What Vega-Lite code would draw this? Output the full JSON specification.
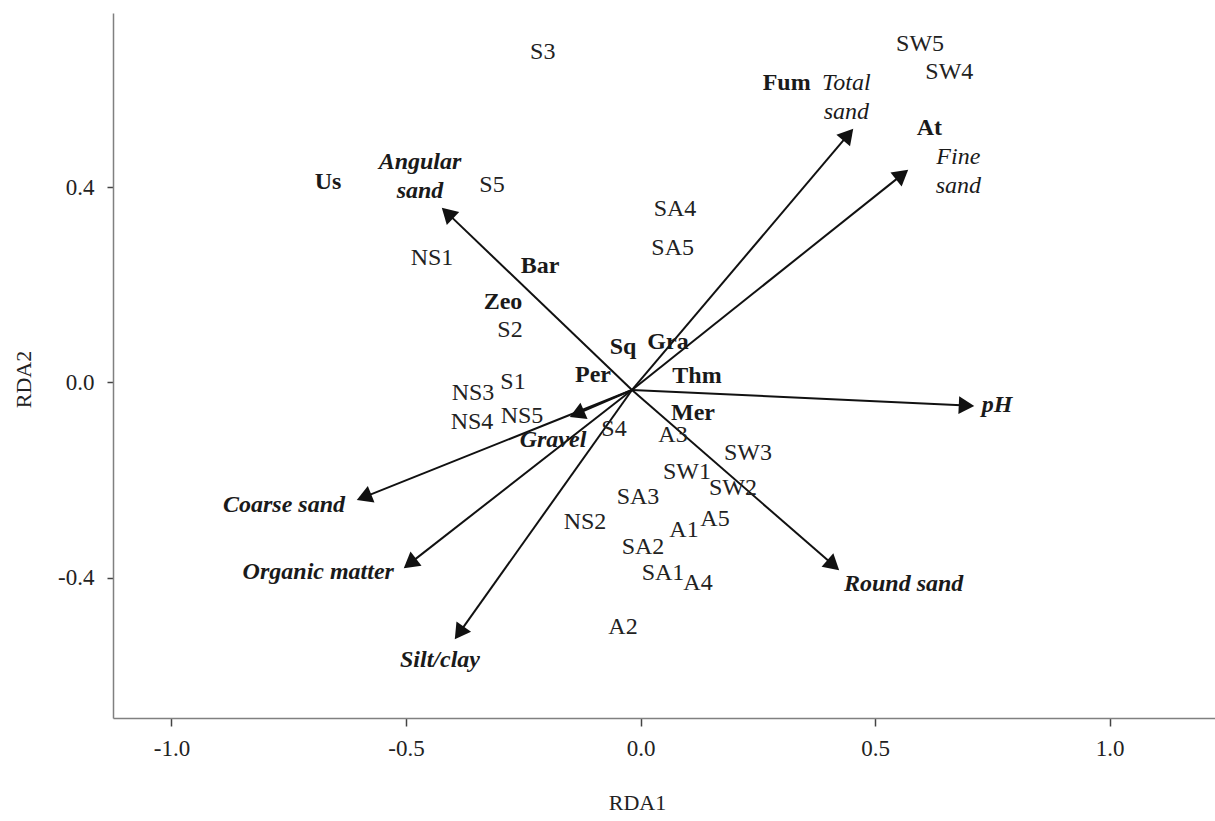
{
  "$schema": "https://vega.github.io/schema/vega-lite/v6.json",
  "width": 1102,
  "height": 705,
  "autosize": {"type": "none"},
  "padding": {"left": 113, "top": 13, "right": 0, "bottom": 103},
  "background": "white",
  "config": {"view": {"stroke": null}, "font": "Liberation Serif"},
  "datasets": {
    "arrows": [
      {"label": "Angular sand", "x": -0.4117, "y": 0.3469, "x0": -0.0181, "y0": -0.0154},
      {"label": "Total sand", "x": 0.4429, "y": 0.5078, "x0": -0.0181, "y0": -0.0154},
      {"label": "Fine sand", "x": 0.5578, "y": 0.4258, "x0": -0.0181, "y0": -0.0154},
      {"label": "pH", "x": 0.6951, "y": -0.0473, "x0": -0.0181, "y0": -0.0154},
      {"label": "Round sand", "x": 0.4111, "y": -0.3742, "x0": -0.0181, "y0": -0.0154},
      {"label": "Silt/clay", "x": -0.3864, "y": -0.5131, "x0": -0.0181, "y0": -0.0154},
      {"label": "Organic matter", "x": -0.4917, "y": -0.3707, "x0": -0.0181, "y0": -0.0154},
      {"label": "Coarse sand", "x": -0.5896, "y": -0.235, "x0": -0.0181, "y0": -0.0154},
      {"label": "Gravel", "x": -0.1356, "y": -0.0645, "x0": -0.0181, "y0": -0.0154}
    ],
    "sites": [
      {"label": "S3", "x": -0.2085, "y": 0.6766},
      {"label": "SW5", "x": 0.596, "y": 0.6936},
      {"label": "SW4", "x": 0.6585, "y": 0.6369},
      {"label": "S5", "x": -0.3166, "y": 0.4047},
      {"label": "SA4", "x": 0.0736, "y": 0.3549},
      {"label": "SA5", "x": 0.0686, "y": 0.275},
      {"label": "NS1", "x": -0.4446, "y": 0.2551},
      {"label": "S2", "x": -0.2783, "y": 0.1076},
      {"label": "S1", "x": -0.2719, "y": 0.001},
      {"label": "NS3", "x": -0.3571, "y": -0.0215},
      {"label": "NS4", "x": -0.3593, "y": -0.0809},
      {"label": "NS5", "x": -0.2527, "y": -0.0686},
      {"label": "S4", "x": -0.0565, "y": -0.0953},
      {"label": "A3", "x": 0.0693, "y": -0.1076},
      {"label": "SW3", "x": 0.2292, "y": -0.1445},
      {"label": "SW1", "x": 0.0991, "y": -0.1834},
      {"label": "SW2", "x": 0.1972, "y": -0.2162},
      {"label": "SA3", "x": -0.0053, "y": -0.2346},
      {"label": "NS2", "x": -0.1183, "y": -0.2859},
      {"label": "A1", "x": 0.0928, "y": -0.3023},
      {"label": "A5", "x": 0.1588, "y": -0.2797},
      {"label": "SA2", "x": 0.0053, "y": -0.3371},
      {"label": "SA1", "x": 0.048, "y": -0.3904},
      {"label": "A4", "x": 0.1226, "y": -0.4109},
      {"label": "A2", "x": -0.0373, "y": -0.501}
    ],
    "species": [
      {"label": "Us", "x": -0.6663, "y": 0.4109},
      {"label": "Fum", "x": 0.3117, "y": 0.6143},
      {"label": "At", "x": 0.6158, "y": 0.5209},
      {"label": "Bar", "x": -0.2143, "y": 0.2387},
      {"label": "Zeo", "x": -0.2932, "y": 0.165},
      {"label": "Sq", "x": -0.0373, "y": 0.0727},
      {"label": "Gra", "x": 0.0586, "y": 0.083},
      {"label": "Per", "x": -0.1013, "y": 0.0154},
      {"label": "Thm", "x": 0.1205, "y": 0.0133},
      {"label": "Mer", "x": 0.1119, "y": -0.0625}
    ],
    "env": [
      {"label": "Angular\nsand", "x": -0.4701, "y": 0.4518},
      {"label": "Total\nsand", "x": 0.4388, "y": 0.6143},
      {"label": "Fine\nsand", "x": 0.6776, "y": 0.4627},
      {"label": "pH", "x": 0.7601, "y": -0.0461},
      {"label": "Round sand", "x": 0.561, "y": -0.4129},
      {"label": "Silt/clay", "x": -0.4275, "y": -0.5686},
      {"label": "Organic matter", "x": -0.687, "y": -0.3877},
      {"label": "Coarse sand", "x": -0.7601, "y": -0.251},
      {"label": "Gravel", "x": -0.1866, "y": -0.1178}
    ]
  },
  "encoding": {
    "x": {
      "field": "x",
      "type": "quantitative",
      "scale": {"domain": [-1.1247, 1.2249], "nice": false, "zero": false},
      "axis": {
        "title": "RDA1",
        "values": [-1, -0.5, 0, 0.5, 1],
        "labelExpr": "datum.value < 0 ? '-' + format(-datum.value, '.1f') : format(datum.value, '.1f')",
        "grid": false,
        "domainColor": "#808080",
        "domainWidth": 1.5,
        "tickColor": "#444",
        "tickWidth": 1.5,
        "tickSize": 8,
        "labelFont": "Liberation Serif",
        "labelFontSize": 23,
        "labelColor": "#222",
        "labelPadding": 11,
        "labelFlush": false,
        "labelOverlap": false,
        "titleFont": "Liberation Serif",
        "titleFontSize": 22,
        "titleFontWeight": "normal",
        "titleColor": "#222",
        "titleX": 524,
        "titleY": 84,
        "titleAlign": "center",
        "titleBaseline": "middle"
      }
    },
    "y": {
      "field": "y",
      "type": "quantitative",
      "scale": {"domain": [-0.6875, 0.757], "nice": false, "zero": false},
      "axis": {
        "title": "RDA2",
        "values": [-0.4, 0, 0.4],
        "labelExpr": "datum.value < 0 ? '-' + format(-datum.value, '.1f') : format(datum.value, '.1f')",
        "grid": false,
        "domainColor": "#808080",
        "domainWidth": 1.5,
        "tickColor": "#444",
        "tickWidth": 1.5,
        "tickSize": 6,
        "labelFont": "Liberation Serif",
        "labelFontSize": 23,
        "labelColor": "#222",
        "labelPadding": 13,
        "labelFlush": false,
        "labelOverlap": false,
        "titleFont": "Liberation Serif",
        "titleFontSize": 22,
        "titleFontWeight": "normal",
        "titleColor": "#222",
        "titleAngle": 270,
        "titleX": -90,
        "titleY": 366,
        "titleAlign": "center",
        "titleBaseline": "middle"
      }
    }
  },
  "layer": [
    {
      "data": {"name": "arrows"},
      "mark": {"type": "rule", "color": "#111", "strokeWidth": 2},
      "encoding": {"x2": {"field": "x0"}, "y2": {"field": "y0"}}
    },
    {
      "data": {"name": "arrows"},
      "transform": [
        {"calculate": "atan2((datum.x - datum.x0) * 469, (datum.y - datum.y0) * 488) * 180 / PI", "as": "angle"}
      ],
      "mark": {"type": "point", "shape": "triangle-up", "filled": true, "size": 320, "color": "#111", "opacity": 1, "strokeWidth": 0},
      "encoding": {"angle": {"field": "angle", "type": "quantitative", "scale": null}}
    },
    {
      "data": {"name": "sites"},
      "mark": {"type": "text", "font": "Liberation Serif", "fontSize": 24, "color": "#222", "align": "center", "baseline": "middle"},
      "encoding": {"text": {"field": "label"}}
    },
    {
      "data": {"name": "species"},
      "mark": {"type": "text", "font": "Liberation Serif", "fontSize": 24, "fontWeight": "bold", "color": "#1a1a1a", "align": "center", "baseline": "middle"},
      "encoding": {"text": {"field": "label"}}
    },
    {
      "data": {"name": "env"},
      "transform": [{"filter": {"not": {"field": "label", "oneOf": ["Total\nsand", "Fine\nsand"]}}}],
      "mark": {"type": "text", "font": "Liberation Serif", "fontSize": 24, "fontWeight": "bold", "fontStyle": "italic", "color": "#1a1a1a", "align": "center", "baseline": "middle", "lineBreak": "\n", "lineHeight": 29},
      "encoding": {"text": {"field": "label"}}
    },
    {
      "data": {"name": "env"},
      "transform": [{"filter": {"field": "label", "oneOf": ["Total\nsand", "Fine\nsand"]}}],
      "mark": {"type": "text", "font": "Liberation Serif", "fontSize": 24, "fontStyle": "italic", "color": "#1a1a1a", "align": "center", "baseline": "middle", "lineBreak": "\n", "lineHeight": 29},
      "encoding": {"text": {"field": "label"}}
    }
  ]
}
